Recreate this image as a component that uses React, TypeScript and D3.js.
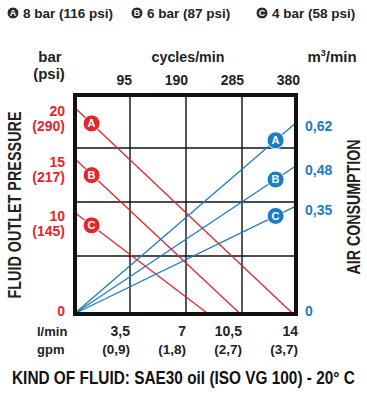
import React from "react";
import * as d3 from "d3";

// ---- data ----
const flowTicks = [3.5, 7, 10.5, 14]; // l/min
const gpmTicks = ["(0,9)", "(1,8)", "(2,7)", "(3,7)"];
const cycleTicks = ["95", "190", "285", "380"];
const pressureTicks = [
  { v: 20, bar: "20", psi: "(290)" },
  { v: 15, bar: "15", psi: "(217)" },
  { v: 10, bar: "10", psi: "(145)" },
  { v: 0, bar: "0", psi: "" },
];
const airTicks = [
  { v: 0.62, label: "0,62" },
  { v: 0.48, label: "0,48" },
  { v: 0.35, label: "0,35" },
  { v: 0, label: "0" },
];
const seriesNames = ["A", "B", "C"];
const legendLabels = ["8 bar (116 psi)", "6 bar (87 psi)", "4 bar (58 psi)"];
// fluid outlet pressure (bar) vs flow (l/min)
const pressureA: [number, number][] = [[0, 20], [13.7, 0]];
const pressureB: [number, number][] = [[0, 15], [10.4, 0]];
const pressureC: [number, number][] = [[0, 10], [8.4, 0]];
// air consumption (m3/min) vs flow (l/min)
const airA: [number, number][] = [[0, 0], [14, 0.62]];
const airB: [number, number][] = [[0, 0], [14, 0.48]];
const airC: [number, number][] = [[0, 0], [14, 0.35]];
const redBadgeFlow = 1.1;
const blueBadgeFlow = 12.6;

const RED = "#e3262b";
const BLUE = "#1c7cc2";
const FONT = "'Liberation Sans', Arial, Helvetica, sans-serif";

function interp(pts: [number, number][], xv: number) {
  const [a, b] = pts;
  return a[1] + ((b[1] - a[1]) * (xv - a[0])) / (b[0] - a[0]);
}

export default function App() {
  const W = 367, H = 394;
  const x = d3.scaleLinear().domain([0, 14]).range([74, 298]);
  // the printed pressure axis is not evenly spaced
  const yP = d3.scaleLinear().domain([0, 10, 15, 20]).range([314, 212, 158, 107]);
  const yA = d3.scaleLinear().domain([0, 0.62]).range([314, 121]);
  const gridY = d3.scaleLinear().domain([0, 4]).range([310, 94]);

  const lineP = d3.line<[number, number]>().x(d => x(d[0])).y(d => yP(d[1]));
  const lineA = d3.line<[number, number]>().x(d => x(d[0])).y(d => yA(d[1]));

  const pSeries = [pressureA, pressureB, pressureC];
  const aSeries = [airA, airB, airC];

  const badge = (cx: number, cy: number, letter: string, fill: string, r: number, fs: number, key: string) => (
    <g key={key}>
      <circle cx={cx} cy={cy} r={r} fill={fill} stroke="#fff" strokeWidth={1} />
      <text x={cx} y={cy + fs * 0.36} textAnchor="middle" fontSize={fs} fontWeight="bold" fill="#fff" fontFamily={FONT}>
        {letter}
      </text>
    </g>
  );

  return (
    <svg width={W} height={H} style={{ position: "absolute", left: 0, top: 0, background: "#fff" }} fontFamily={FONT} fontWeight="bold">
      <rect width={W} height={H} fill="#fff" />
      {/* legend */}
      {legendLabels.map((l, i) => {
        const lx = [13, 137, 262][i];
        return (
          <g key={l}>
            {badge(lx, 13, seriesNames[i], "#2a2a2a", 6, 9, "lb" + i)}
            <text x={lx + 10} y={18} fontSize={13.5} fill="#222">{l}</text>
          </g>
        );
      })}

      {/* axis titles */}
      <text x={50} y={62} fontSize={15} textAnchor="middle" fill="#222">bar</text>
      <text x={49} y={79} fontSize={15} textAnchor="middle" fill="#222">(psi)</text>
      <text transform="translate(188,62) scale(0.95,1)" fontSize={15} textAnchor="middle" fill="#222">cycles/min</text>
      <text x={332} y={62} fontSize={15} textAnchor="middle" fill="#222">
        m<tspan fontSize={9} dy={-6}>3</tspan><tspan dy={6}>/min</tspan>
      </text>
      <text transform="translate(21,205) rotate(-90) scale(0.8,1)" fontSize={18} textAnchor="middle" fill="#222">FLUID OUTLET PRESSURE</text>
      <text transform="translate(360,207) rotate(-90) scale(0.79,1)" fontSize={18} textAnchor="middle" fill="#222">AIR CONSUMPTION</text>

      {/* top ticks */}
      {cycleTicks.map((c, i) => (
        <text key={c} x={x(flowTicks[i]) + 2} y={85} fontSize={14} textAnchor="end" fill="#222">{c}</text>
      ))}
      {/* bottom ticks */}
      <text x={37} y={336} fontSize={13} fill="#222">l/min</text>
      <text x={37} y={354} fontSize={13} fill="#222">gpm</text>
      {flowTicks.map((f, i) => (
        <g key={f}>
          <text x={x(f)} y={336} fontSize={14} textAnchor="end" fill="#222">{String(f).replace(".", ",")}</text>
          <text x={x(f)} y={354} fontSize={13.5} textAnchor="end" fill="#222">{gpmTicks[i]}</text>
        </g>
      ))}
      <text transform="translate(12,384) scale(0.855,1)" fontSize={18} fill="#111">KIND OF FLUID: SAE30 oil (ISO VG 100) - 20° C</text>

      {/* pressure labels */}
      {pressureTicks.map(t => (
        <g key={t.bar}>
          <text x={65} y={t.v === 0 ? yP(t.v) + 2 : yP(t.v) + 9} fontSize={14} textAnchor="end" fill={RED}>{t.bar}</text>
          {t.psi && <text x={65} y={yP(t.v) + 24} fontSize={14} textAnchor="end" fill={RED}>{t.psi}</text>}
        </g>
      ))}
      {/* air labels */}
      {airTicks.map(t => (
        <text key={t.label} x={305} y={t.v === 0 ? yA(t.v) + 2 : yA(t.v) + 10} fontSize={14} fill={BLUE}>{t.label}</text>
      ))}

      {/* grid */}
      {flowTicks.slice(0, 3).map(f => (
        <line key={"gx" + f} x1={x(f)} x2={x(f)} y1={95} y2={314} stroke="#111" strokeWidth={1.4} />
      ))}
      {[1, 2, 3].map(g => (
        <line key={"gy" + g} x1={75} x2={296} y1={gridY(g)} y2={gridY(g)} stroke="#111" strokeWidth={1.4} />
      ))}

      {/* series */}
      {pSeries.map((s, i) => (
        <path key={"p" + i} d={lineP(s) || ""} fill="none" stroke={RED} strokeWidth={1.3} />
      ))}
      {aSeries.map((s, i) => (
        <path key={"a" + i} d={lineA(s) || ""} fill="none" stroke={BLUE} strokeWidth={1.3} />
      ))}

      {/* frame */}
      <rect x={75} y={95} width={221} height={219} fill="none" stroke="#111" strokeWidth={4} />

      {/* badges */}
      {pSeries.map((s, i) => badge(x(redBadgeFlow), yP(interp(s, redBadgeFlow)), seriesNames[i], RED, 8.5, 11, "rb" + i))}
      {aSeries.map((s, i) => badge(x(blueBadgeFlow), yA(interp(s, blueBadgeFlow)), seriesNames[i], BLUE, 8.5, 11, "bb" + i))}
    </svg>
  );
}
